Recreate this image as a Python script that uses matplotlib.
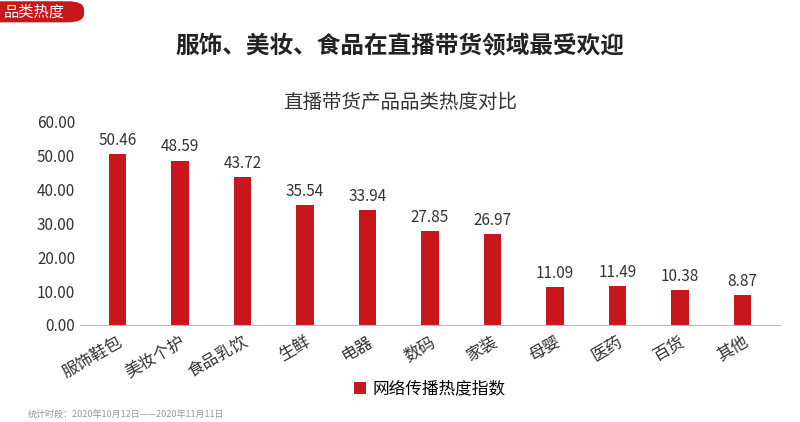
import matplotlib.pyplot as plt
from matplotlib.patches import FancyBboxPatch

plt.rcParams['font.family'] = ['Noto Sans CJK SC', 'DejaVu Sans']

categories = ['服饰鞋包', '美妆个护', '食品乳饮', '生鲜', '电器', '数码', '家装', '母婴', '医药', '百货', '其他']
values = [50.46, 48.59, 43.72, 35.54, 33.94, 27.85, 26.97, 11.09, 11.49, 10.38, 8.87]
red = '#c8161d'

fig = plt.figure(figsize=(8, 4.22), dpi=100)
ax = fig.add_axes([0.1, 0.23, 0.875, 0.481])
x = range(len(categories))
bars = ax.bar(x, values, width=0.28, color=red, label='网络传播热度指数')
for xi, v in zip(x, values):
    ax.text(xi, v + 1.5, f'{v:.2f}', ha='center', va='bottom', fontsize=11, color='#333333')
ax.set_xlim(-0.6, len(categories) - 0.4)
ax.set_ylim(0, 60)
ax.set_yticks(range(0, 61, 10))
ax.set_yticklabels([f'{t:.2f}' for t in range(0, 61, 10)], fontsize=11, color='#333333')
ax.set_xticks(list(x))
ax.set_xticklabels(categories, rotation=30, ha='right', rotation_mode='anchor', fontsize=12, color='#333333')
ax.tick_params(length=0)
ax.tick_params(axis='x', pad=6)
for s in ['top', 'right', 'left']:
    ax.spines[s].set_visible(False)
ax.spines['bottom'].set_color('#bbbbbb')
ax.legend(loc='upper center', bbox_to_anchor=(0.5, -0.2), frameon=False, fontsize=12,
          handlelength=0.7, handleheight=0.7, handletextpad=0.4)

fig.text(0.5, 0.745, '直播带货产品品类热度对比', ha='center', fontsize=14, color='#333333')
fig.text(0.5, 0.875, '服饰、美妆、食品在直播带货领域最受欢迎', ha='center', fontsize=17, fontweight='bold', color='#222222')

tag = FancyBboxPatch((-0.02, 0.947), 0.125, 0.05, boxstyle='round,pad=0,rounding_size=0.02',
                     transform=fig.transFigure, facecolor=red, edgecolor='none')
fig.patches.append(tag)
fig.text(0.005, 0.971, '品类热度', ha='left', va='center', fontsize=11, color='white')
fig.text(0.035, 0.012, '统计时段：2020年10月12日——2020年11月11日', fontsize=6.5, color='#999999')

fig.savefig('out.png', dpi=100)
